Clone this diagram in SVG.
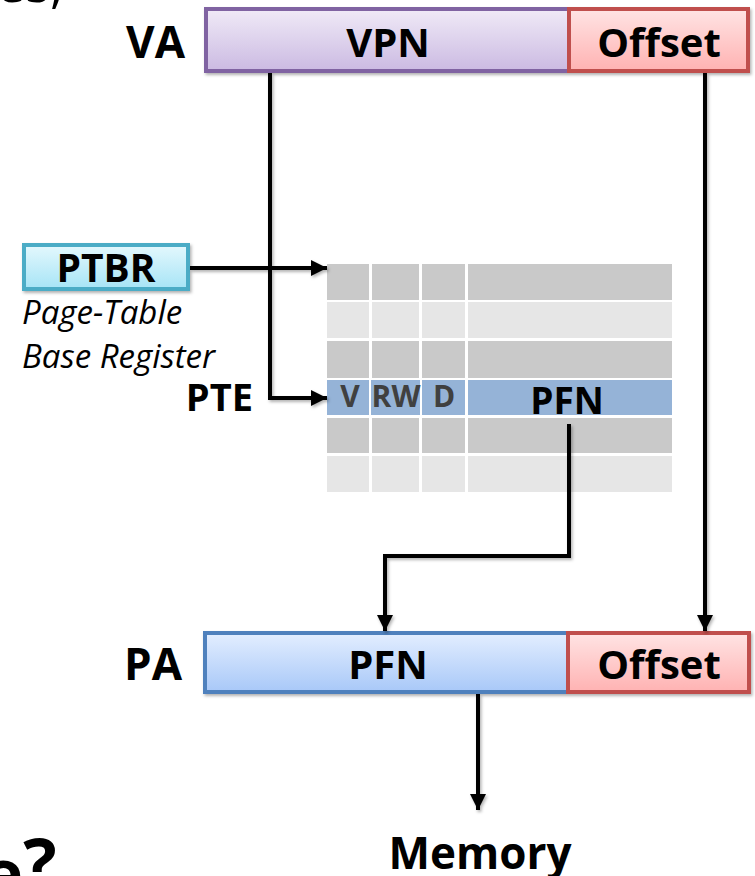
<svg xmlns="http://www.w3.org/2000/svg" width="755" height="876" viewBox="0 0 755 876">
  <defs>
    <style>
      .lbl { font-family: "Open Sans", "Liberation Sans", sans-serif; font-weight: bold; fill: #000; }
      .bit { font-family: "Open Sans", "Liberation Sans", sans-serif; font-weight: bold; fill: #404040; font-size: 30px; text-anchor: middle; }
      .note { font-family: "Open Sans", "Liberation Sans", sans-serif; font-style: italic; fill: #000; font-size: 33px; }
      .mid { text-anchor: middle; }
      .end { text-anchor: end; }
      .wire { fill: none; stroke: #000; stroke-width: 4; marker-end: url(#head); }
      .dark { fill: #C9C9C9; }
      .light { fill: #E6E6E6; }
      .sel { fill: #95B3D7; }
    </style>
    <linearGradient id="gPurple" x1="0" y1="0" x2="0" y2="1">
      <stop offset="0" stop-color="#F0EAF7"/>
      <stop offset="1" stop-color="#CBBAE2"/>
    </linearGradient>
    <linearGradient id="gRed" x1="0" y1="0" x2="0" y2="1">
      <stop offset="0" stop-color="#FFE4E4"/>
      <stop offset="1" stop-color="#FFB2B2"/>
    </linearGradient>
    <linearGradient id="gBlue" x1="0" y1="0" x2="0" y2="1">
      <stop offset="0" stop-color="#E3EEFF"/>
      <stop offset="1" stop-color="#A8C8F8"/>
    </linearGradient>
    <linearGradient id="gCyan" x1="0" y1="0" x2="0" y2="1">
      <stop offset="0" stop-color="#E4F8FD"/>
      <stop offset="1" stop-color="#A6E4F6"/>
    </linearGradient>
    <filter id="shadow" x="-10%" y="-10%" width="120%" height="130%">
      <feDropShadow dx="1.5" dy="2" stdDeviation="1.5" flood-color="#000" flood-opacity="0.3"/>
    </filter>
    <marker id="head" markerUnits="userSpaceOnUse" markerWidth="18" markerHeight="16" refX="16" refY="8" orient="auto">
      <path d="M0,0 L16,8 L0,16 Z" fill="#000"/>
    </marker>
  </defs>

  <!-- clipped slide text at the edges -->
  <text x="-4" y="2" font-family="'Open Sans', sans-serif" font-size="52" fill="#000">es,</text>
  <text x="-18" y="899" font-family="'Open Sans', sans-serif" font-weight="bold" font-size="70" fill="#000">e<tspan dy="-10">?</tspan></text>

  <!-- virtual address -->
  <g id="va">
    <text class="lbl end" x="185" y="58" font-size="44">VA</text>
    <g filter="url(#shadow)">
      <rect x="206" y="9" width="364" height="62" fill="url(#gPurple)" stroke="#8064A2" stroke-width="4"/>
      <rect x="569" y="9" width="179" height="62" fill="url(#gRed)" stroke="#C0504D" stroke-width="4"/>
    </g>
    <text class="lbl mid" x="388" y="57" font-size="40">VPN</text>
    <text class="lbl mid" x="659" y="57" font-size="40">Offset</text>
  </g>

  <!-- page-table base register -->
  <g id="ptbr">
    <rect x="24" y="245" width="164" height="44" fill="url(#gCyan)" stroke="#4BACC6" stroke-width="4" filter="url(#shadow)"/>
    <text class="lbl mid" x="106" y="282" font-size="39">PTBR</text>
    <text class="note" x="22" y="324">Page-Table</text>
    <text class="note" x="22" y="368">Base Register</text>
  </g>

  <!-- page table -->
  <g id="page-table">
    <rect class="dark" x="327" y="264" width="42" height="36"/>
    <rect class="dark" x="372" y="264" width="47" height="36"/>
    <rect class="dark" x="422" y="264" width="43" height="36"/>
    <rect class="dark" x="468" y="264" width="204" height="36"/>

    <rect class="light" x="327" y="302" width="42" height="36"/>
    <rect class="light" x="372" y="302" width="47" height="36"/>
    <rect class="light" x="422" y="302" width="43" height="36"/>
    <rect class="light" x="468" y="302" width="204" height="36"/>

    <rect class="dark" x="327" y="341" width="42" height="37"/>
    <rect class="dark" x="372" y="341" width="47" height="37"/>
    <rect class="dark" x="422" y="341" width="43" height="37"/>
    <rect class="dark" x="468" y="341" width="204" height="37"/>

    <rect class="sel" x="327" y="380" width="42" height="35"/>
    <rect class="sel" x="371" y="380" width="49" height="35"/>
    <rect class="sel" x="422" y="380" width="43" height="35"/>
    <rect class="sel" x="468" y="380" width="204" height="35"/>

    <rect class="dark" x="327" y="418" width="42" height="35"/>
    <rect class="dark" x="372" y="418" width="47" height="35"/>
    <rect class="dark" x="422" y="418" width="43" height="35"/>
    <rect class="dark" x="468" y="418" width="204" height="35"/>

    <rect class="light" x="327" y="456" width="42" height="36"/>
    <rect class="light" x="372" y="456" width="47" height="36"/>
    <rect class="light" x="422" y="456" width="43" height="36"/>
    <rect class="light" x="468" y="456" width="204" height="36"/>

    <text class="bit" x="350" y="407">V</text>
    <text class="bit" x="396" y="407">RW</text>
    <text class="bit" x="444" y="407">D</text>
    <text class="lbl mid" x="567" y="414" font-size="37">PFN</text>
  </g>

  <g id="pte">
    <text class="lbl end" x="253" y="411" font-size="38">PTE</text>
  </g>

  <!-- physical address -->
  <g id="pa">
    <text class="lbl end" x="182" y="680" font-size="44">PA</text>
    <g filter="url(#shadow)">
      <rect x="205" y="633" width="364" height="59" fill="url(#gBlue)" stroke="#4F81BD" stroke-width="4"/>
      <rect x="568" y="633" width="181" height="59" fill="url(#gRed)" stroke="#C0504D" stroke-width="4"/>
    </g>
    <text class="lbl mid" x="388" y="679" font-size="40">PFN</text>
    <text class="lbl mid" x="659" y="679" font-size="40">Offset</text>
  </g>

  <g id="memory">
    <text class="lbl mid" x="480" y="869" font-size="44">Memory</text>
  </g>

  <!-- connectors -->
  <g id="connectors" filter="url(#shadow)">
    <path class="wire" d="M190,268 H327"/>
    <path class="wire" d="M270,73 V398 H327"/>
    <path class="wire" d="M705,73 V631"/>
    <path class="wire" d="M569,424 V556 H385 V631"/>
    <path class="wire" d="M478,694 V810"/>
  </g>
</svg>
